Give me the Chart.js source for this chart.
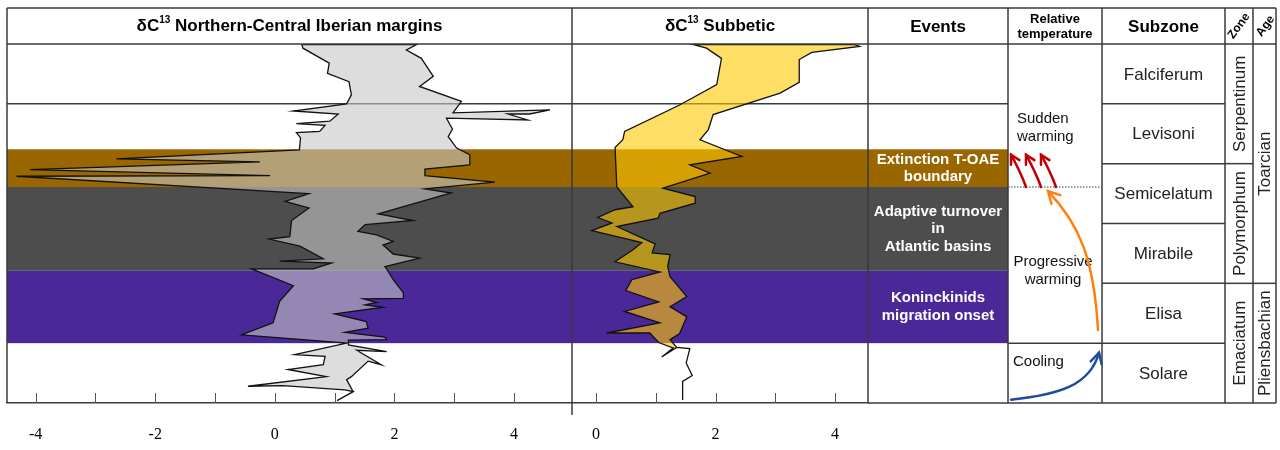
<!DOCTYPE html>
<html>
<head>
<meta charset="utf-8">
<title>Toarcian carbon isotope record</title>
<script src="https://cdn.jsdelivr.net/npm/chart.js@4.4.1/dist/chart.umd.min.js"></script>
<style>
  body { margin: 0; background: #fff; }
  #wrap { position: relative; width: 1280px; height: 450px; background: #fff; }
  #wrap canvas { position: absolute; left: 0; top: 0; }
</style>
</head>
<body>
<div id="wrap">
  <canvas id="iberian" width="1280" height="450"></canvas>
  <canvas id="subbetic" width="1280" height="450"></canvas>
</div>
<script>
// Vertical axis is the subzone level: 0 = base of Solare, 6 = top of Falciferum

// dC13 Northern-Central Iberian margins, left edge (top to bottom)
var ibLeftX = [0.45, 0.47, 0.91, 0.88, 1.24, 1.28, 1.20, 0.31, 1.06, 0.92, 0.36, 0.84, 0.75, 0.36, 0.43, 0.41,
  -2.65, -0.25, -4.10, -0.08, -4.32, 0.57, 0.17, 0.57, 0.28, 0.25, -0.10, 0.42, 0.81, 0.08, 0.95, 0.64, -0.39,
  0.31, 0.08, -0.03, -0.56, 1.20, 0.33, 0.84, 0.81, 0.22, 0.86, -0.45, 0.13, 1.17, 1.31, 1.04];
var ibLeftY = [5.99, 5.93, 5.68, 5.51, 5.37, 5.15, 5.00, 4.88, 4.83, 4.71, 4.67, 4.64, 4.54, 4.52, 4.43, 4.23,
  4.08, 4.03, 3.90, 3.80, 3.79, 3.50, 3.37, 3.26, 3.05, 2.78, 2.74, 2.62, 2.41, 2.37, 2.34, 2.24, 2.24,
  1.96, 1.70, 1.34, 1.14, 1.00, 0.81, 0.78, 0.64, 0.56, 0.44, 0.28, 0.29, 0.22, 0.19, 0.04];
// right edge (bottom to top)
var ibRightX = [1.31, 1.20, 1.28, 1.56, 1.78, 1.37, 1.87, 1.23, 1.23, 1.87, 1.84, 1.17, 1.56, 1.53, 1.00,
  1.81, 1.51, 1.70, 1.48, 2.15, 2.15, 1.98, 1.87, 1.84, 2.42, 1.98, 1.81, 1.98, 1.70, 1.39, 1.51, 2.31, 1.73,
  2.95, 2.51, 3.68, 2.51, 2.51, 3.26, 3.26, 3.04, 2.90, 2.97, 2.87, 4.23, 3.90, 4.26, 4.60, 2.98, 3.12, 2.42,
  2.65, 2.45, 2.20, 2.37];
var ibRightY = [0.19, 0.39, 0.44, 0.70, 0.64, 0.88, 0.86, 0.97, 1.05, 1.06, 1.10, 1.18, 1.25, 1.36, 1.49,
  1.60, 1.64, 1.68, 1.74, 1.75, 1.84, 2.06, 2.24, 2.28, 2.42, 2.49, 2.64, 2.70, 2.81, 2.87, 2.98, 3.05, 3.16,
  3.51, 3.58, 3.69, 3.80, 3.91, 3.98, 4.15, 4.26, 4.45, 4.58, 4.76, 4.73, 4.83, 4.83, 4.90, 4.85, 5.04, 5.29,
  5.46, 5.76, 5.90, 5.99];

// dC13 Subbetic, right edge (top to bottom)
var sbRightX = [4.33, 4.41, 3.61, 3.40, 3.40, 3.08, 1.96, 1.88, 1.74, 2.44, 1.57, 1.91, 1.12, 1.66, 1.66,
  1.07, 1.04, 0.35, 0.99, 0.94, 1.24, 1.20, 1.24, 1.52, 1.24, 1.52, 1.40, 1.24, 1.35];
var sbRightY = [5.99, 5.96, 5.86, 5.74, 5.36, 5.18, 4.82, 4.57, 4.40, 4.12, 3.98, 3.84, 3.59, 3.45, 3.34,
  3.17, 3.09, 2.95, 2.66, 2.51, 2.48, 2.28, 2.11, 1.78, 1.61, 1.44, 1.16, 1.06, 0.93];
// single line below the envelope (Solare)
var sbTailX = [1.57, 1.51, 1.61, 1.45, 1.45];
var sbTailY = [0.91, 0.67, 0.46, 0.36, 0.05];
var sbSpurX = [1.10, 1.29];
var sbSpurY = [0.77, 0.92];
// left edge (bottom to top)
var sbLeftX = [1.05, 0.90, 0.18, 1.07, 0.48, 1.05, 0.50, 0.60, 1.07, 0.32, 0.62, 0.77, -0.07, 0.27, 0.03,
  0.32, 0.62, 0.35, 0.32, 0.45, 0.48, 1.40, 2.02, 2.10, 1.85, 1.63];
var sbLeftY = [1.01, 1.17, 1.17, 1.34, 1.53, 1.69, 1.88, 2.06, 2.19, 2.36, 2.56, 2.68, 2.88, 3.01, 3.10,
  3.23, 3.28, 3.61, 4.27, 4.40, 4.54, 4.98, 5.32, 5.76, 5.93, 5.99];

// Event bands (levels)
var bandTop = [4.24, 3.61, 2.21];
var bandBottom = [3.61, 2.21, 1.00];
var bandColors = ['#996600', '#4d4d4d', '#4b2898'];
var eventLines = [['Extinction T-OAE', 'boundary'], ['Adaptive turnover', 'in', 'Atlantic basins'],
  ['Koninckinids', 'migration onset']];

// Biostratigraphy, bottom to top
var subzones = ['Solare', 'Elisa', 'Mirabile', 'Semicelatum', 'Levisoni', 'Falciferum'];
var zones = ['Emaciatum', 'Polymorphum', 'Serpentinum'];
var zoneFrom = [0, 2, 4];
var zoneTo = [2, 4, 6];
var ages = ['Pliensbachian', 'Toarcian'];
var ageFrom = [0, 2];
var ageTo = [2, 6];

// Column edges of the figure
var col = { left: 7, split: 572, events: 868, temp: 1008, subzone: 1102, zone: 1225, age: 1253, right: 1276, top: 8 };
var sans = '"Liberation Sans", Arial, sans-serif';
var serif = '"Liberation Serif", "Times New Roman", serif';
var lineColor = '#3a3a3a';

function pts(xs, ys) {
  return xs.map(function (x, i) { return { x: x, y: ys[i] }; });
}

var ibShape = pts(ibLeftX, ibLeftY).concat(pts(ibRightX, ibRightY));
ibShape.push(ibShape[0]);

var sbRight = pts(sbRightX, sbRightY);
var sbTail = pts(sbTailX, sbTailY);
var sbShape = sbRight
  .concat(sbTail, sbTail.slice(0, -1).reverse(), [sbRight[sbRight.length - 1]])
  .concat(pts(sbSpurX, sbSpurY), pts(sbLeftX, sbLeftY));
sbShape.push(sbShape[0]);

function line(c, x0, y0, x1, y1) {
  c.beginPath();
  c.moveTo(x0, y0);
  c.lineTo(x1, y1);
  c.stroke();
}

function arrowHead(c, x, y, ang, size) {
  c.beginPath();
  c.moveTo(x - size * Math.cos(ang - 0.5), y - size * Math.sin(ang - 0.5));
  c.lineTo(x, y);
  c.lineTo(x - size * Math.cos(ang + 0.5), y - size * Math.sin(ang + 0.5));
  c.stroke();
}

// Upward tick marks on the bottom axis
var innerTicks = {
  id: 'innerTicks',
  afterDraw: function (chart) {
    var s = chart.scales.x, c = chart.ctx, b = chart.chartArea.bottom;
    c.save();
    c.strokeStyle = '#555';
    c.lineWidth = 1;
    s.ticks.forEach(function (t) {
      var x = Math.round(s.getPixelForValue(t.value)) + 0.5;
      line(c, x, b, x, b - 10);
    });
    c.restore();
  }
};

// Coloured event bands behind both curves
var bands = {
  id: 'bands',
  beforeDatasetsDraw: function (chart) {
    var c = chart.ctx, y = chart.scales.y;
    c.save();
    for (var i = 0; i < bandTop.length; i++) {
      var t = y.getPixelForValue(bandTop[i]), b = y.getPixelForValue(bandBottom[i]);
      c.fillStyle = bandColors[i];
      c.fillRect(col.left, t, col.temp - col.left, b - t);
    }
    c.strokeStyle = lineColor;
    c.lineWidth = 1.5;
    var y5 = y.getPixelForValue(5);
    line(c, col.left, y5, col.temp, y5);
    c.restore();
  }
};

function deltaTitle(c, cx, cy, rest) {
  var big = 'bold 17px ' + sans, small = 'bold 10px ' + sans;
  c.font = big;
  var w1 = c.measureText('\u03b4C').width, w3 = c.measureText(rest).width;
  c.font = small;
  var w2 = c.measureText('13').width;
  var x = cx - (w1 + w2 + w3) / 2;
  c.textAlign = 'left';
  c.textBaseline = 'middle';
  c.font = big;
  c.fillText('\u03b4C', x, cy);
  c.font = small;
  c.fillText('13', x + w1, cy - 6);
  c.font = big;
  c.fillText(rest, x + w1 + w2, cy);
}

function rotated(c, text, x, y, ang) {
  c.save();
  c.translate(x, y);
  c.rotate(ang);
  c.fillText(text, 0, 0);
  c.restore();
}

// Table, headers and annotations on top
var table = {
  id: 'table',
  afterDraw: function (chart) {
    var c = chart.ctx, y = chart.scales.y;
    var top = chart.chartArea.top, bot = chart.chartArea.bottom;
    var L = function (v) { return y.getPixelForValue(v); };
    c.save();
    c.strokeStyle = lineColor;
    c.lineWidth = 1.5;
    line(c, col.left, col.top, col.right, col.top);
    line(c, col.left, top, col.right, top);
    line(c, col.events, bot, col.right, bot);
    [col.left, col.events, col.temp, col.subzone, col.zone, col.age, col.right].forEach(function (x) {
      line(c, x, col.top, x, bot);
    });
    line(c, col.split, col.top, col.split, bot + 12);
    for (var i = 1; i < 6; i++) line(c, col.subzone, L(i), col.zone, L(i));
    line(c, col.zone, L(2), col.age, L(2));
    line(c, col.zone, L(4), col.age, L(4));
    line(c, col.age, L(2), col.right, L(2));
    line(c, col.temp, L(1), col.subzone, L(1));
    c.lineWidth = 1;
    c.setLineDash([1.5, 1.5]);
    line(c, col.temp, L(bandBottom[0]), col.subzone, L(bandBottom[0]));
    c.setLineDash([]);

    // headers
    c.fillStyle = '#000';
    deltaTitle(c, (col.left + col.split) / 2, 26, ' Northern-Central Iberian margins');
    deltaTitle(c, (col.split + col.events) / 2, 26, ' Subbetic');
    c.textAlign = 'center';
    c.textBaseline = 'middle';
    c.font = 'bold 17px ' + sans;
    c.fillText('Events', (col.events + col.temp) / 2, 27);
    c.fillText('Subzone', (col.subzone + col.zone) / 2, 27);
    c.font = 'bold 13px ' + sans;
    c.fillText('Relative', (col.temp + col.subzone) / 2, 19);
    c.fillText('temperature', (col.temp + col.subzone) / 2, 34);
    c.font = 'bold 12px ' + sans;
    rotated(c, 'Zone', (col.zone + col.age) / 2, 26, -0.95);
    rotated(c, 'Age', (col.age + col.right) / 2 + 1, 26, -0.95);

    // events
    c.fillStyle = '#fff';
    c.font = 'bold 15px ' + sans;
    eventLines.forEach(function (lines, i) {
      var mid = (L(bandTop[i]) + L(bandBottom[i])) / 2;
      lines.forEach(function (t, j) {
        c.fillText(t, (col.events + col.temp) / 2, mid + (j - (lines.length - 1) / 2) * 17.5);
      });
    });

    // subzones, zones, ages
    c.fillStyle = '#222';
    c.font = '17px ' + sans;
    subzones.forEach(function (s, i) {
      c.fillText(s, (col.subzone + col.zone) / 2, L(i + 0.5) + 1);
    });
    zones.forEach(function (z, i) {
      rotated(c, z, (col.zone + col.age) / 2 + 1, (L(zoneFrom[i]) + L(zoneTo[i])) / 2, -Math.PI / 2);
    });
    ages.forEach(function (a, i) {
      rotated(c, a, (col.age + col.right) / 2 + 1, (L(ageFrom[i]) + L(ageTo[i])) / 2, -Math.PI / 2);
    });

    // relative temperature
    c.fillStyle = '#111';
    c.font = '15px ' + sans;
    c.textAlign = 'left';
    c.fillText('Sudden', col.temp + 9, L(4.6) - 9);
    c.fillText('warming', col.temp + 9, L(4.6) + 9);
    c.fillText('Cooling', col.temp + 5, L(0.69));
    c.textAlign = 'center';
    c.fillText('Progressive', col.temp + 45, L(2.21) - 9);
    c.fillText('warming', col.temp + 45, L(2.21) + 9);

    c.lineWidth = 2.5;
    c.lineCap = 'round';
    // sudden warming arrows
    c.strokeStyle = '#c00000';
    var yb = L(bandBottom[0]), yt = L(4.15);
    [18, 33, 48].forEach(function (dx) {
      var x0 = col.temp + dx, x1 = col.temp + dx - 15;
      c.beginPath();
      c.moveTo(x0, yb);
      c.quadraticCurveTo(x0 - 5, yb - 14, x1, yt);
      c.stroke();
      arrowHead(c, x1, yt, Math.atan2(yt - (yb - 14), x1 - (x0 - 5)), 10);
    });
    // progressive warming
    c.strokeStyle = '#ff7f0e';
    var p0 = [col.temp + 90, L(1.22)], p1 = [col.temp + 86, L(2.39)], p2 = [col.temp + 72, L(2.98)],
      p3 = [col.temp + 40, L(3.54)];
    c.beginPath();
    c.moveTo(p0[0], p0[1]);
    c.bezierCurveTo(p1[0], p1[1], p2[0], p2[1], p3[0], p3[1]);
    c.stroke();
    arrowHead(c, p3[0], p3[1], Math.atan2(p3[1] - p2[1], p3[0] - p2[0]), 13);
    // cooling
    c.strokeStyle = '#1f4aa0';
    var q0 = [col.temp + 3, L(0.055)], q1 = [col.temp + 52, L(0.14)], q2 = [col.temp + 82, L(0.3)],
      q3 = [col.temp + 91, L(0.84)];
    c.beginPath();
    c.moveTo(q0[0], q0[1]);
    c.bezierCurveTo(q1[0], q1[1], q2[0], q2[1], q3[0], q3[1]);
    c.stroke();
    arrowHead(c, q3[0], q3[1], Math.atan2(q3[1] - q2[1], q3[0] - q2[0]), 12);
    c.restore();
  }
};

function panelOptions(xmin, xmax, padLeft, padRight) {
  return {
    responsive: false,
    animation: false,
    devicePixelRatio: 1,
    layout: { padding: { left: padLeft, right: padRight, top: 44, bottom: 0 } },
    plugins: { legend: { display: false }, tooltip: { enabled: false } },
    scales: {
      x: {
        type: 'linear',
        min: xmin,
        max: xmax,
        grid: { display: false, drawTicks: false },
        border: { display: true, color: lineColor, width: 1.5 },
        ticks: {
          stepSize: 1, includeBounds: false, autoSkip: false, maxRotation: 0, padding: 22,
          color: '#000', font: { family: serif, size: 16 },
          callback: function (v) { return v % 2 === 0 ? String(v) : ''; }
        },
        afterFit: function (s) { s.height = 47; }
      },
      y: { type: 'linear', min: 0, max: 6, display: false }
    }
  };
}

var ibChart = new Chart(document.getElementById('iberian').getContext('2d'), {
  type: 'line',
  data: {
    datasets: [{
      data: ibShape,
      fill: 'shape',
      backgroundColor: 'rgba(198,198,198,0.6)',
      borderColor: '#111',
      borderWidth: 1.3,
      pointRadius: 0,
      tension: 0
    }]
  },
  options: panelOptions(-4.48, 4.97, col.left, 1280 - col.split),
  plugins: [bands, innerTicks]
});

var sbChart = new Chart(document.getElementById('subbetic').getContext('2d'), {
  type: 'line',
  data: {
    datasets: [{
      data: sbShape,
      fill: 'shape',
      backgroundColor: 'rgba(255,200,0,0.6)',
      borderColor: '#111',
      borderWidth: 1.3,
      pointRadius: 0,
      tension: 0
    }]
  },
  options: panelOptions(-0.40, 4.55, col.split, 1280 - col.events),
  plugins: [innerTicks, table]
});
</script>
</body>
</html>
